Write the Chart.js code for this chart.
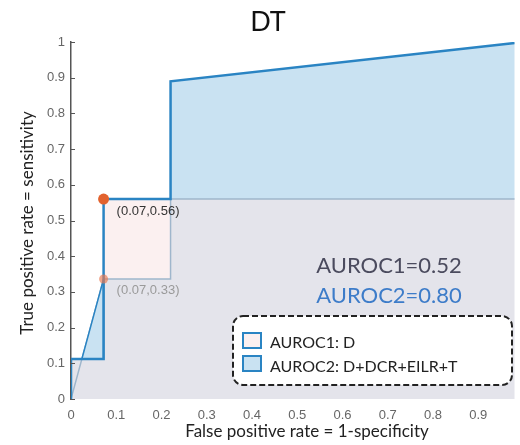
<!DOCTYPE html>
<html><head><meta charset="utf-8">
<script src="https://cdn.jsdelivr.net/npm/chart.js@4"></script>
<style>
html,body{margin:0;padding:0;background:#fff;overflow:hidden}
canvas{display:block}
</style></head><body>
<canvas id="c" width="520" height="445"></canvas>
<script>
// ---- data ----
const chartTitle = 'DT';
const xAxisTitle = 'False positive rate = 1-specificity';
const yAxisTitle = 'True positive rate = sensitivity';
const xTickLabels = ['0','0.1','0.2','0.3','0.4','0.5','0.6','0.7','0.8','0.9'];
const yTickLabels = ['0','0.1','0.2','0.3','0.4','0.5','0.6','0.7','0.8','0.9','1'];

// ROC curve 1 (D) and ROC curve 2 (D+DCR+EILR+T)
const roc1X = [0, 0.072, 0.22, 0.22, 1, 1];
const roc1Y = [0, 0.336, 0.336, 0.56, 0.56, 1];
const roc2X = [0, 0, 0.072, 0.072, 0.22, 0.22, 1];
const roc2Y = [0, 0.112, 0.112, 0.56, 0.56, 0.89, 1];

// shaded regions
const grayAreaX = [0, 0, 0.024, 0.072, 0.072, 1, 1, 0];
const grayAreaY = [0, 0.112, 0.112, 0.336, 0.56, 0.56, 0, 0];
const gainRectX = [0.072, 0.22, 0.22, 0.072, 0.072];
const gainRectY = [0.336, 0.336, 0.56, 0.56, 0.336];
const lowTriX = [0.024, 0.072, 0.072, 0.024];
const lowTriY = [0.112, 0.336, 0.112, 0.112];
const upperAreaX = [0.22, 0.22, 1, 1, 0.22];
const upperAreaY = [0.56, 0.89, 1, 0.56, 0.56];

// highlighted points
const markX = [0.072, 0.072];
const markY = [0.56, 0.336];
const markLabels = ['(0.07,0.56)', '(0.07,0.33)'];

const aurocLabels = ['AUROC1=0.52', 'AUROC2=0.80'];
const legendLabels = ['AUROC1: D', 'AUROC2: D+DCR+EILR+T'];

// visible x extent (the picture is cropped just before x = 1)
const xVisibleMax = 0.98;

// ---- helpers ----
const pts = (xs, ys) => xs.map((x, i) => ({x, y: ys[i]}));

const BLUE = '#2a84c3';
const LIGHTBLUE = '#c9e2f2';
const GRAY = '#e4e4eb';
const PINK = '#fbf0f0';
const STEEL = '#9fb6cc';

const decor = {
  id: 'decor',
  afterDatasetsDraw(chart) {
    const ctx = chart.ctx;
    const xs = chart.scales.x, ys = chart.scales.y;
    const area = chart.chartArea;
    ctx.save();
    // inward y ticks
    ctx.strokeStyle = '#555';
    ctx.lineWidth = 1;
    yTickLabels.forEach((t, i) => {
      const py = Math.round(ys.getPixelForValue(i / 10)) + 0.5;
      ctx.beginPath(); ctx.moveTo(area.left, py); ctx.lineTo(area.left + 4, py); ctx.stroke();
    });
    // point labels
    ctx.font = '13px "Liberation Sans"';
    ctx.textBaseline = 'alphabetic';
    ctx.textAlign = 'left';
    const labelColors = ['#333', '#9a9a9a'];
    const labelDy = [16, 15];
    markLabels.forEach((t, i) => {
      ctx.fillStyle = labelColors[i];
      ctx.fillText(t, xs.getPixelForValue(markX[i]) + 13, ys.getPixelForValue(markY[i]) + labelDy[i]);
    });
    // title
    ctx.fillStyle = '#111';
    ctx.textAlign = 'center';
    ctx.font = '27px Lato';
    ctx.fillText(chartTitle, 268, 31);
    // axis titles
    ctx.fillStyle = '#222';
    ctx.font = '17px Lato';
    ctx.fillText(xAxisTitle, 307, 437);
    ctx.save();
    ctx.translate(33, 223);
    ctx.rotate(-Math.PI / 2);
    ctx.fillText(yAxisTitle, 0, 0);
    ctx.restore();
    // AUROC texts
    ctx.font = '22px Lato';
    ctx.fillStyle = '#4b4b5e';
    ctx.fillText(aurocLabels[0], 389, 273);
    ctx.fillStyle = '#3d7cc9';
    ctx.fillText(aurocLabels[1], 389, 303);
    // legend box
    ctx.beginPath();
    ctx.roundRect(233, 316, 279, 69, 10);
    ctx.fillStyle = '#ffffff';
    ctx.fill();
    ctx.setLineDash([6, 3]);
    ctx.lineWidth = 2;
    ctx.strokeStyle = '#222';
    ctx.stroke();
    ctx.setLineDash([]);
    const sqFill = [PINK, LIGHTBLUE];
    const sqTop = [333, 356];
    const txtBase = [348, 372];
    ctx.font = '16px Lato';
    ctx.textAlign = 'left';
    legendLabels.forEach((t, i) => {
      ctx.fillStyle = sqFill[i];
      ctx.fillRect(243, sqTop[i], 18, 15);
      ctx.strokeStyle = BLUE;
      ctx.lineWidth = 2;
      ctx.strokeRect(243, sqTop[i], 18, 15);
      ctx.fillStyle = '#222';
      ctx.fillText(t, 270, txtBase[i]);
    });
    ctx.restore();
  }
};

const shape = (xs, ys, bg, border, bw, order) => ({
  data: pts(xs, ys), showLine: true, fill: 'shape', backgroundColor: bg,
  borderColor: border, borderWidth: bw, pointRadius: 0, order, tension: 0
});

new Chart(document.getElementById('c'), {
  type: 'scatter',
  data: {
    datasets: [
      shape(grayAreaX, grayAreaY, GRAY, 'rgba(0,0,0,0)', 0, 10),
      shape(gainRectX, gainRectY, PINK, 'rgba(0,0,0,0)', 0, 9),
      shape(upperAreaX, upperAreaY, LIGHTBLUE, 'rgba(0,0,0,0)', 0, 8),
      {data: pts(roc1X, roc1Y), showLine: true, fill: false, borderColor: STEEL, borderWidth: 1.5, pointRadius: 0, order: 7},
      shape(lowTriX, lowTriY, LIGHTBLUE, BLUE, 1.5, 6),
      {data: pts(roc2X, roc2Y), showLine: true, fill: false, borderColor: BLUE, borderWidth: 2.5, pointRadius: 0, order: 5},
      {data: pts(markX, markY), showLine: false, pointRadius: [5.5, 4.5],
       pointBackgroundColor: ['#e2622e', 'rgba(232,120,80,0.65)'], pointBorderWidth: 0, order: 1}
    ]
  },
  options: {
    responsive: false, animation: false,
    layout: {padding: {top: 42, right: 0, left: 0, bottom: 0}},
    plugins: {legend: {display: false}, tooltip: {enabled: false}},
    scales: {
      x: {
        type: 'linear', min: 0, max: xVisibleMax,
        grid: {display: false, drawTicks: false},
        border: {display: false},
        ticks: {stepSize: 0.1, includeBounds: false, autoSkip: false, maxRotation: 0, padding: 9, color: '#666',
                font: {family: 'Liberation Sans', size: 13},
                callback: (v, i) => xTickLabels[i]},
        afterFit: s => { s.height = 46; }
      },
      y: {
        type: 'linear', min: 0, max: 1,
        grid: {display: false, drawTicks: false},
        border: {display: true, color: '#555', width: 1.5},
        ticks: {stepSize: 0.1, autoSkip: false, padding: 6, color: '#666',
                font: {family: 'Liberation Sans', size: 13},
                callback: (v, i) => yTickLabels[i]},
        afterFit: s => { s.width = 71; }
      }
    }
  },
  plugins: [decor]
});
</script>
</body></html>
